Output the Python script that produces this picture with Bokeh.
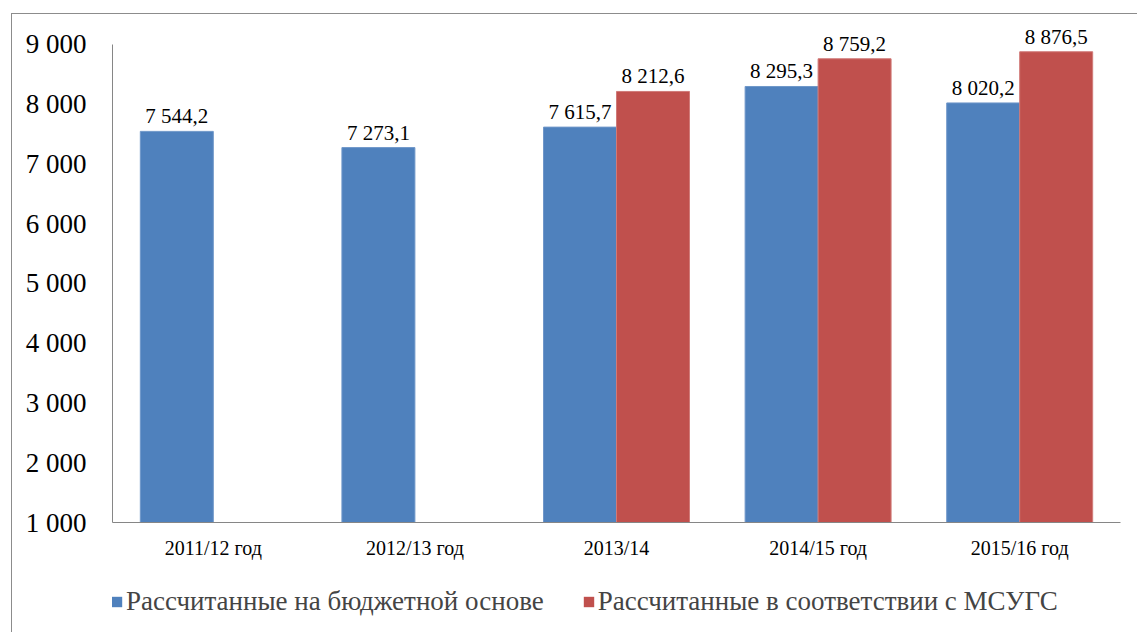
from bokeh.plotting import figure
from bokeh.layouts import column
from bokeh.models import (FactorRange, Range1d, FixedTicker, ColumnDataSource,
                          Legend, LegendItem)
from bokeh.transform import dodge
from bokeh.core.properties import value
from bokeh.embed import file_html
from bokeh.resources import INLINE

categories = ["2011/12 год", "2012/13 год", "2013/14", "2014/15 год", "2015/16 год"]
budget = [7544.2, 7273.1, 7615.7, 8295.3, 8020.2]
ipsas = [None, None, 8212.6, 8759.2, 8876.5]
series_names = ["Рассчитанные на бюджетной основе", "Рассчитанные в соответствии с МСУГС"]
y_ticks = [1000, 2000, 3000, 4000, 5000, 6000, 7000, 8000, 9000]

BLUE = "#4F81BD"
RED = "#C0504D"
FONT = "Liberation Serif"


def fmt(v):
    s = f"{v:,.1f}"
    return s.replace(",", " ").replace(".", ",")


def fmt_int(v):
    return f"{v:,d}".replace(",", " ")


src_b = ColumnDataSource(dict(cat=categories, top=budget, lab=[fmt(v) for v in budget]))
r_cats = [c for c, v in zip(categories, ipsas) if v is not None]
r_vals = [v for v in ipsas if v is not None]
src_r = ColumnDataSource(dict(cat=r_cats, top=r_vals, lab=[fmt(v) for v in r_vals]))

W = 0.362

# ---- main chart ----
p = figure(width=1125, height=556, x_range=FactorRange(*categories, range_padding=0),
           y_range=Range1d(1000, 9500), output_backend="svg", toolbar_location=None,
           min_border_left=100, min_border_top=0, min_border_right=17, min_border_bottom=48)
p.outline_line_color = None
p.xgrid.visible = False
p.ygrid.visible = False

rb = p.vbar(x=dodge("cat", -W / 2, range=p.x_range), top="top", bottom=1000, width=W,
            source=src_b, fill_color=BLUE, line_color="#6f97c9", line_width=1)
rr = p.vbar(x=dodge("cat", W / 2, range=p.x_range), top="top", bottom=1000, width=W,
            source=src_r, fill_color=RED, line_color="#d07a78", line_width=1)

for src, off in ((src_b, -W / 2), (src_r, W / 2)):
    p.text(x=dodge("cat", off, range=p.x_range), y="top", text="lab", source=src,
           text_align="center", text_baseline="alphabetic", y_offset=-15,
           text_font=value(FONT), text_font_size=value("21px"), text_color="black")

p.yaxis.ticker = FixedTicker(ticks=y_ticks)
p.yaxis.bounds = (1000, 9000)
p.yaxis.major_label_overrides = {t: fmt_int(t) for t in y_ticks}
p.yaxis.major_label_text_font = FONT
p.yaxis.major_label_text_font_size = "27px"
p.yaxis.major_label_text_color = "black"
p.yaxis.major_label_standoff = 20
p.yaxis.axis_line_color = "#868686"
p.yaxis.major_tick_line_color = None
p.yaxis.minor_tick_line_color = None

p.xaxis.major_label_text_font = FONT
p.xaxis.major_label_text_font_size = "20px"
p.xaxis.major_label_text_color = "black"
p.xaxis.major_label_standoff = 8
p.xaxis.axis_line_color = "#868686"
p.xaxis.major_tick_line_color = None
p.xaxis.minor_tick_line_color = None

# ---- legend strip (its bars lie outside the visible ranges) ----
q = figure(width=1125, height=62, x_range=p.x_range, y_range=Range1d(20000, 21000),
           x_axis_type=None, y_axis_type=None, output_backend="svg", toolbar_location=None,
           min_border_left=0, min_border_top=0, min_border_right=0, min_border_bottom=0)
q.outline_line_color = None
lb = q.vbar(x=dodge("cat", 20, range=q.x_range), top="top", bottom=1000, width=W,
            source=src_b, fill_color=BLUE, line_color=None)
lr = q.vbar(x=dodge("cat", 20, range=q.x_range), top="top", bottom=1000, width=W,
            source=src_r, fill_color=RED, line_color=None)
legend = Legend(items=[LegendItem(label=series_names[0], renderers=[lb]),
                       LegendItem(label=series_names[1], renderers=[lr])],
                orientation="horizontal", location=(-2, 15),
                border_line_color=None, background_fill_alpha=0,
                padding=0, margin=0, glyph_width=13, glyph_height=13,
                label_standoff=3, spacing=38,
                label_text_font=FONT, label_text_font_size="27px")
q.add_layout(legend, "center")

layout = column(p, q, spacing=0)
layout.margin = (13, 0, 0, 11)
layout.styles = {"border-top": "1px solid #8c8c8c", "border-left": "1px solid #8c8c8c"}

open("out.html", "w").write(file_html(layout, INLINE))
